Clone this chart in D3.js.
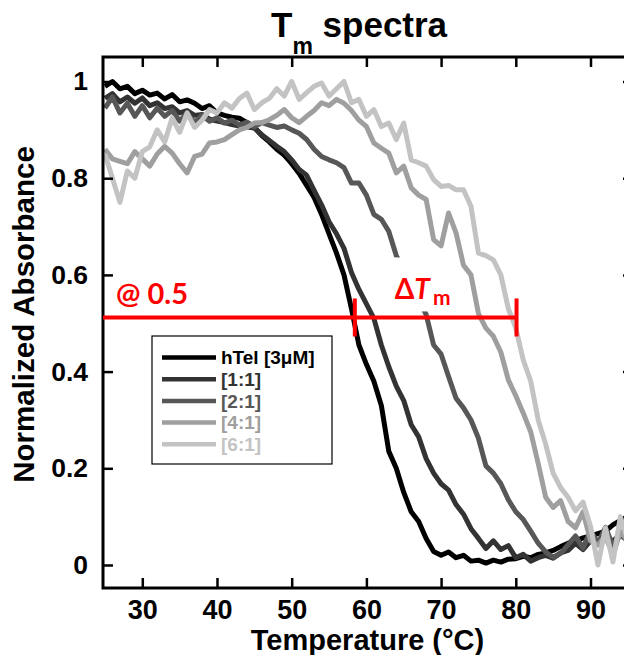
<!DOCTYPE html>
<html>
<head>
<meta charset="utf-8">
<script src="https://cdn.jsdelivr.net/npm/d3@7"></script>
<style>
  body { margin: 0; background: #fff; }
  svg { display: block; }
</style>
</head>
<body>
<div id="chart"></div>
<script>
// temperature (°C) and normalized absorbance
const temperature = [25,26,27,28,29,30,31,32,33,34,35,36,37,38,39,40,41,42,43,44,45,46,47,48,49,50,
  51,52,53,54,55,56,57,58,59,60,61,62,63,64,65,66,67,68,69,70,71,72,73,74,75,76,77,78,79,80,
  81,82,83,84,85,86,87,88,89,90,91,92,93,94,95];

const hTel = [0.99,1.0,0.985,0.99,0.975,0.982,0.972,0.976,0.964,0.973,0.958,0.962,0.955,0.944,0.95,0.935,
  0.93,0.926,0.924,0.915,0.905,0.888,0.875,0.86,0.848,0.83,0.81,0.785,0.76,0.725,0.685,0.645,0.6,0.53,
  0.455,0.415,0.38,0.33,0.235,0.2,0.15,0.11,0.09,0.055,0.028,0.02,0.027,0.015,0.02,0.008,0.01,0.004,
  0.01,0.006,0.012,0.013,0.018,0.015,0.022,0.025,0.03,0.038,0.045,0.05,0.056,0.06,0.065,0.07,0.083,0.092,0.1];

const ratio11 = [0.965,0.975,0.958,0.968,0.955,0.966,0.95,0.956,0.944,0.948,0.935,0.94,0.93,0.932,0.922,0.918,
  0.915,0.911,0.908,0.906,0.904,0.89,0.878,0.866,0.855,0.838,0.818,0.806,0.775,0.745,0.71,0.685,0.655,0.605,
  0.57,0.54,0.51,0.455,0.41,0.37,0.34,0.29,0.265,0.22,0.19,0.168,0.155,0.125,0.105,0.075,0.055,0.034,
  0.05,0.032,0.04,0.015,0.022,0.008,0.015,0.02,0.014,0.025,0.03,0.045,0.032,0.05,0.045,0.056,0.05,0.062,0.066];

const ratio21 = [0.945,0.968,0.935,0.955,0.928,0.95,0.925,0.945,0.928,0.94,0.918,0.935,0.915,0.93,0.918,0.925,
  0.914,0.92,0.91,0.916,0.906,0.915,0.91,0.905,0.908,0.9,0.893,0.88,0.86,0.845,0.838,0.832,0.822,0.79,
  0.79,0.765,0.725,0.715,0.69,0.64,0.61,0.58,0.55,0.518,0.455,0.436,0.39,0.345,0.325,0.3,0.262,0.205,
  0.19,0.168,0.135,0.11,0.094,0.07,0.045,0.027,0.016,0.024,0.042,0.06,0.035,0.072,0.045,0.078,0.04,0.062,0.05];

const ratio41 = [0.86,0.84,0.835,0.83,0.855,0.84,0.825,0.85,0.866,0.852,0.83,0.811,0.845,0.85,0.873,0.875,
  0.88,0.89,0.9,0.905,0.914,0.915,0.921,0.93,0.942,0.925,0.915,0.928,0.94,0.956,0.95,0.963,0.955,0.94,
  0.92,0.907,0.873,0.862,0.852,0.811,0.825,0.78,0.765,0.756,0.673,0.66,0.728,0.687,0.62,0.6,0.52,0.49,
  0.473,0.44,0.383,0.35,0.314,0.275,0.21,0.14,0.119,0.133,0.09,0.077,0.11,0.05,0.041,0.06,0.02,0.07,0.05];

const ratio61 = [0.85,0.8,0.75,0.815,0.8,0.855,0.865,0.9,0.875,0.925,0.895,0.935,0.905,0.92,0.942,0.935,
  0.956,0.945,0.965,0.976,0.942,0.956,0.965,0.985,0.97,1.0,0.963,0.977,0.99,0.997,0.97,0.985,1.0,0.956,
  0.963,0.928,0.942,0.907,0.914,0.88,0.914,0.838,0.832,0.825,0.797,0.783,0.785,0.776,0.776,0.742,0.645,0.64,
  0.631,0.6,0.53,0.49,0.424,0.38,0.3,0.25,0.19,0.16,0.14,0.112,0.13,0.08,0.0,0.077,0.006,0.1,0.05];

const seriesNames = ["hTel [3μM]", "[1:1]", "[2:1]", "[4:1]", "[6:1]"];
const seriesValues = [hTel, ratio11, ratio21, ratio41, ratio61];
const seriesColors = ["#000000", "#333333", "#575757", "#9f9f9f", "#c3c3c3"];

const xTicks = [30, 40, 50, 60, 70, 80, 90];
const yTicks = [0, 0.2, 0.4, 0.6, 0.8, 1];

// melting point annotation
const meltLevel = 0.512;
const tmLow = 58.45;
const tmHigh = 80.1;

const width = 624, height = 655;
const margin = { top: 57, right: -9, bottom: 67, left: 103 };
const innerW = width - margin.left - margin.right;
const innerH = height - margin.top - margin.bottom;

const x = d3.scaleLinear().domain([24.74, 95.69]).range([0, innerW]);
const y = d3.scaleLinear().domain([-0.0476, 1.0507]).range([innerH, 0]);

const svg = d3.select("#chart").append("svg")
  .attr("width", width)
  .attr("height", height)
  .style("font-family", "'Liberation Sans', Arial, sans-serif");

const g = svg.append("g").attr("transform", `translate(${margin.left},${margin.top})`);

g.append("clipPath").attr("id", "plotclip")
  .append("rect").attr("width", innerW).attr("height", innerH);

// curves
const line = d3.line()
  .x((d, i) => x(temperature[i]))
  .y(d => y(d));

g.append("g").attr("clip-path", "url(#plotclip)")
  .selectAll("path")
  .data(seriesValues)
  .join("path")
  .attr("fill", "none")
  .attr("stroke", (d, i) => seriesColors[i])
  .attr("stroke-width", 5)
  .attr("stroke-linejoin", "round")
  .attr("d", line);

// axes: inward ticks on all four sides
const tickLen = 10;
const bottomAxis = d3.axisBottom(x).tickValues(xTicks).tickSizeInner(-tickLen).tickSizeOuter(0).tickPadding(12);
const topAxis = d3.axisTop(x).tickValues(xTicks).tickSizeInner(-tickLen).tickSizeOuter(0).tickFormat("");
const leftAxis = d3.axisLeft(y).tickValues(yTicks).tickSizeInner(-tickLen).tickSizeOuter(0).tickPadding(15)
  .tickFormat(d => d3.format("~g")(d));
const rightAxis = d3.axisRight(y).tickValues(yTicks).tickSizeInner(-tickLen).tickSizeOuter(0).tickFormat("");

function styleAxis(sel, fontSize) {
  sel.select(".domain").remove();
  sel.selectAll(".tick line").attr("stroke", "#000").attr("stroke-width", 2.5);
  sel.selectAll(".tick text")
    .attr("fill", "#000")
    .style("font-size", fontSize + "px")
    .style("font-weight", "bold");
}

g.append("g").attr("transform", `translate(0,${innerH})`).call(bottomAxis).call(s => styleAxis(s, 27));
g.append("g").call(topAxis).call(s => styleAxis(s, 0));
g.append("g").call(leftAxis).call(s => styleAxis(s, 26.5));
g.append("g").attr("transform", `translate(${innerW},0)`).call(rightAxis).call(s => styleAxis(s, 0));

g.append("rect")
  .attr("width", innerW).attr("height", innerH)
  .attr("fill", "none").attr("stroke", "#000").attr("stroke-width", 3);

// ΔTm annotation
const red = "#ff0000";
const yMelt = y(meltLevel);
g.append("line")
  .attr("x1", 0).attr("x2", x(tmHigh))
  .attr("y1", yMelt).attr("y2", yMelt)
  .attr("stroke", red).attr("stroke-width", 4);
g.selectAll(".cap")
  .data([tmLow, tmHigh])
  .join("line")
  .attr("class", "cap")
  .attr("x1", d => x(d)).attr("x2", d => x(d))
  .attr("y1", yMelt - 19).attr("y2", yMelt + 19)
  .attr("stroke", red).attr("stroke-width", 4);

g.append("text")
  .attr("x", 13).attr("y", yMelt - 13)
  .attr("fill", red)
  .style("font-family", "Lato, 'Open Sans', sans-serif")
  .style("font-weight", "bold")
  .style("font-size", "29px")
  .text("@ 0.5");

// white box behind the ΔTm label
const dtX = x(tmLow) + 40;
g.append("rect")
  .attr("x", dtX - 2).attr("y", yMelt - 60)
  .attr("width", 62).attr("height", 54)
  .attr("fill", "#fff");

const dt = g.append("text")
  .attr("x", dtX).attr("y", yMelt - 18)
  .attr("fill", red)
  .style("font-family", "Lato, 'Open Sans', sans-serif")
  .style("font-weight", "bold")
  .style("font-size", "28px");
dt.append("tspan").text("Δ");
dt.append("tspan").style("font-style", "italic").text("T");
dt.append("tspan").attr("dy", 6).attr("dx", 3).style("font-size", "21px").text("m");

// legend
const legend = g.append("g").attr("transform", `translate(49,279)`);
legend.append("rect")
  .attr("width", 180).attr("height", 128)
  .attr("fill", "#fff").attr("stroke", "#000").attr("stroke-width", 1.2);
const rows = legend.selectAll(".row")
  .data(seriesNames)
  .join("g")
  .attr("class", "row")
  .attr("transform", (d, i) => `translate(0,${21.5 + i * 21.7})`);
rows.append("line")
  .attr("x1", 10).attr("x2", 64)
  .attr("stroke", (d, i) => seriesColors[i])
  .attr("stroke-width", 4.5);
rows.append("text")
  .attr("x", 69).attr("dy", "0.36em")
  .attr("fill", (d, i) => seriesColors[i])
  .style("font-size", "19px")
  .style("font-weight", "bold")
  .text(d => d);

// axis titles
svg.append("text")
  .attr("x", margin.left + (innerW - 9) / 2 + 4).attr("y", 650)
  .attr("text-anchor", "middle")
  .style("font-size", "29px").style("font-weight", "bold")
  .text("Temperature (°C)");

svg.append("text")
  .attr("transform", `translate(34,${margin.top + innerH / 2 - 8}) rotate(-90)`)
  .attr("text-anchor", "middle")
  .style("font-size", "29.5px").style("font-weight", "bold")
  .text("Normalized Absorbance");

// title
const title = svg.append("text")
  .attr("x", 271).attr("y", 37)
  .style("font-size", "35px").style("font-weight", "bold");
title.append("tspan").text("T");
title.append("tspan").attr("dy", 17).style("font-size", "23px").text("m");
title.append("tspan").attr("dy", -17).text(" spectra");
</script>
</body>
</html>
